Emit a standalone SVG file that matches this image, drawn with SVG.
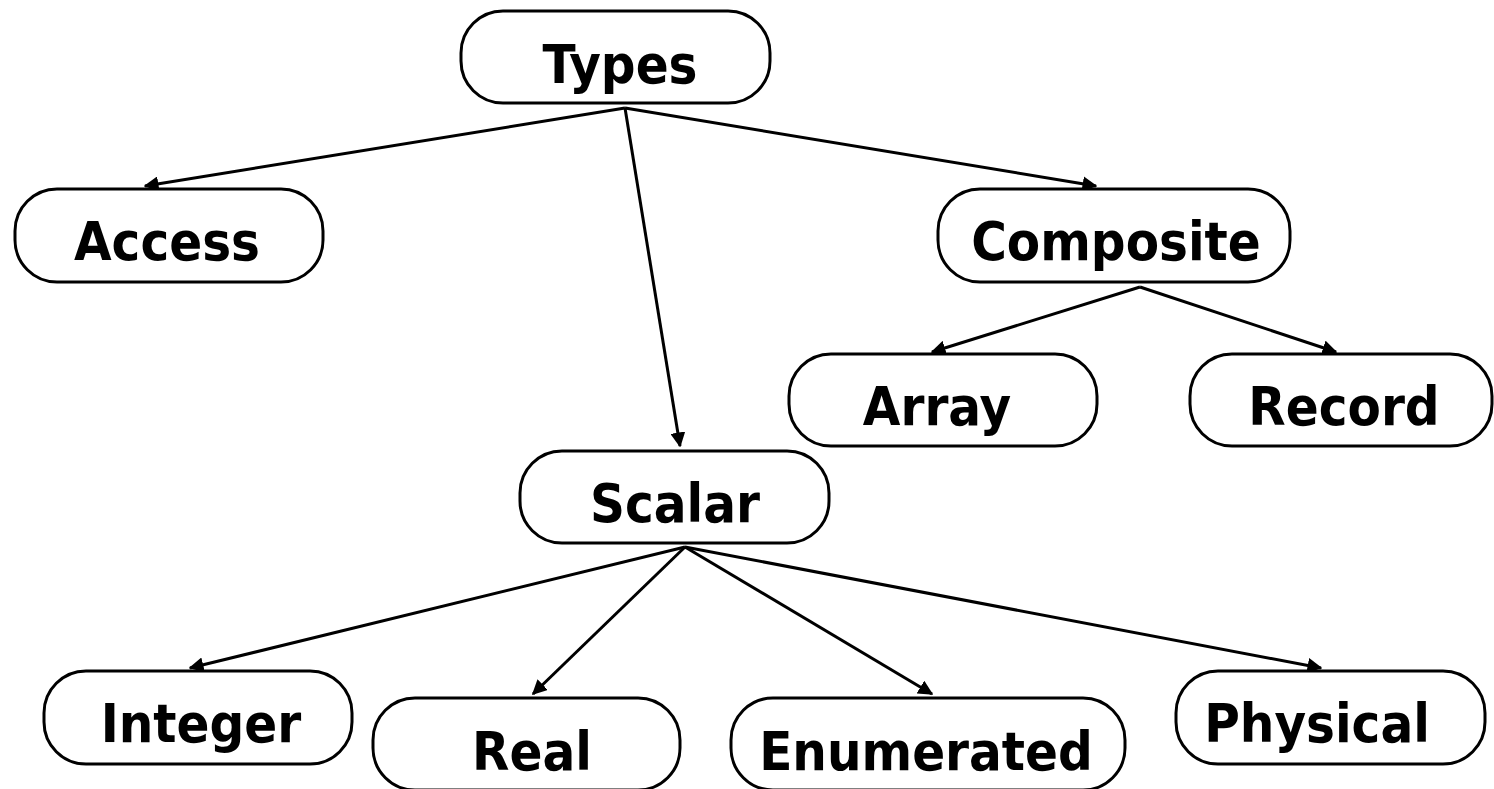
<svg xmlns="http://www.w3.org/2000/svg" width="1494" height="789" viewBox="0 0 1494 789">
<style>
.n rect{fill:#fff;stroke:#000;stroke-width:3}
.n text{font-family:"DejaVu Sans Condensed","DejaVu Sans",sans-serif;font-stretch:condensed;font-weight:bold;font-size:54px;text-anchor:middle;fill:#000}
.c line{stroke:#000;stroke-width:3;marker-end:url(#a)}
</style>
<defs>
<marker id="a" viewBox="0 0 10 10" refX="9" refY="5" markerWidth="5" markerHeight="5" orient="auto" markerUnits="strokeWidth">
<path d="M0,0 L10,5 L0,10 Z" fill="#000"/>
</marker>
</defs>
<g id="connectors" class="c">
<line x1="625" y1="108" x2="145" y2="186"/>
<line x1="625" y1="108" x2="680" y2="446"/>
<line x1="625" y1="108" x2="1096" y2="186"/>
<line x1="1140" y1="287" x2="932" y2="352"/>
<line x1="1140" y1="287" x2="1336" y2="352"/>
<line x1="685" y1="547" x2="190" y2="668"/>
<line x1="685" y1="547" x2="533" y2="694"/>
<line x1="685" y1="547" x2="932" y2="694"/>
<line x1="685" y1="547" x2="1321" y2="668"/>
</g>
<g id="types" class="n"><rect x="461" y="11" width="309" height="92" rx="42"/><text x="620" y="83">Types</text></g>
<g id="access" class="n"><rect x="15" y="189" width="308" height="93" rx="42"/><text x="167" y="260">Access</text></g>
<g id="composite" class="n"><rect x="938" y="189" width="352" height="93" rx="42"/><text x="1116" y="260">Composite</text></g>
<g id="array" class="n"><rect x="789" y="354" width="308" height="92" rx="42"/><text x="937" y="425">Array</text></g>
<g id="record" class="n"><rect x="1190" y="354" width="302" height="92" rx="42"/><text x="1344" y="425">Record</text></g>
<g id="scalar" class="n"><rect x="520" y="451" width="309" height="92" rx="42"/><text x="675" y="522">Scalar</text></g>
<g id="integer" class="n"><rect x="44" y="671" width="308" height="93" rx="42"/><text x="201" y="742">Integer</text></g>
<g id="real" class="n"><rect x="373" y="698" width="307" height="92" rx="42"/><text x="532" y="770">Real</text></g>
<g id="enumerated" class="n"><rect x="731" y="698" width="394" height="92" rx="42"/><text x="926" y="770">Enumerated</text></g>
<g id="physical" class="n"><rect x="1176" y="671" width="309" height="93" rx="42"/><text x="1317" y="742">Physical</text></g>
</svg>
